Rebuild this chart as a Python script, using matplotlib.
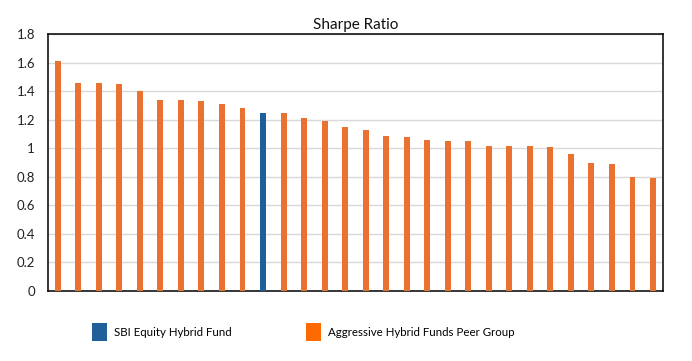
import matplotlib
matplotlib.use("Agg")
import matplotlib.pyplot as plt
from matplotlib.patches import Patch

plt.rcParams['font.family'] = ['Lato', 'DejaVu Sans']

values = [1.61, 1.46, 1.46, 1.45, 1.40, 1.34, 1.34, 1.33, 1.31, 1.28,
          1.25, 1.25, 1.21, 1.19, 1.15, 1.13, 1.09, 1.08, 1.06, 1.05,
          1.05, 1.02, 1.02, 1.02, 1.01, 0.96, 0.90, 0.89, 0.80, 0.79]
highlight_index = 10
series_names = ["SBI Equity Hybrid Fund", "Aggressive Hybrid Funds Peer Group"]
yticks = [0, 0.2, 0.4, 0.6, 0.8, 1, 1.2, 1.4, 1.6, 1.8]
ytick_labels = ["0", "0.2", "0.4", "0.6", "0.8", "1", "1.2", "1.4", "1.6", "1.8"]

bar_orange = "#E97132"
bar_blue = "#1F5F99"
legend_orange = "#FF6A00"
legend_blue = "#215F9A"

fig = plt.figure(figsize=(6.92, 3.61), dpi=100)
ax = fig.add_axes([47.5/692, 1 - 291/361, (663.3-47.5)/692, (291-34.3)/361])

x = list(range(len(values)))
colors = [bar_blue if i == highlight_index else bar_orange for i in x]
ax.bar(x, values, width=0.29, color=colors, zorder=3)
ax.set_xlim(-0.5, len(values) - 0.5)
ax.set_ylim(0, 1.8)
ax.set_yticks(yticks)
ax.set_yticklabels(ytick_labels, fontsize=9.5, color="#222222")
ax.set_xticks([])
ax.tick_params(axis='y', length=0, pad=9)
ax.grid(axis='y', color="#D9D9D9", linewidth=1, zorder=0)
for s in ax.spines.values():
    s.set_color("black")
    s.set_linewidth(1.1)
ax.set_title("Sharpe Ratio", fontsize=11, pad=4, color="#111111", x=0.5)

leg_kw = dict(frameon=False, fontsize=8.3, handlelength=1.3, handleheight=2.0,
              handletextpad=0.6, borderpad=0, borderaxespad=0)
l1 = fig.legend([Patch(facecolor=legend_blue)], [series_names[0]], loc='center left',
                bbox_to_anchor=(92/692, 1 - 332/361), **leg_kw)
l2 = fig.legend([Patch(facecolor=legend_orange)], [series_names[1]], loc='center left',
                bbox_to_anchor=(306/692, 1 - 332/361), **leg_kw)

fig.savefig("out.png", dpi=100)
